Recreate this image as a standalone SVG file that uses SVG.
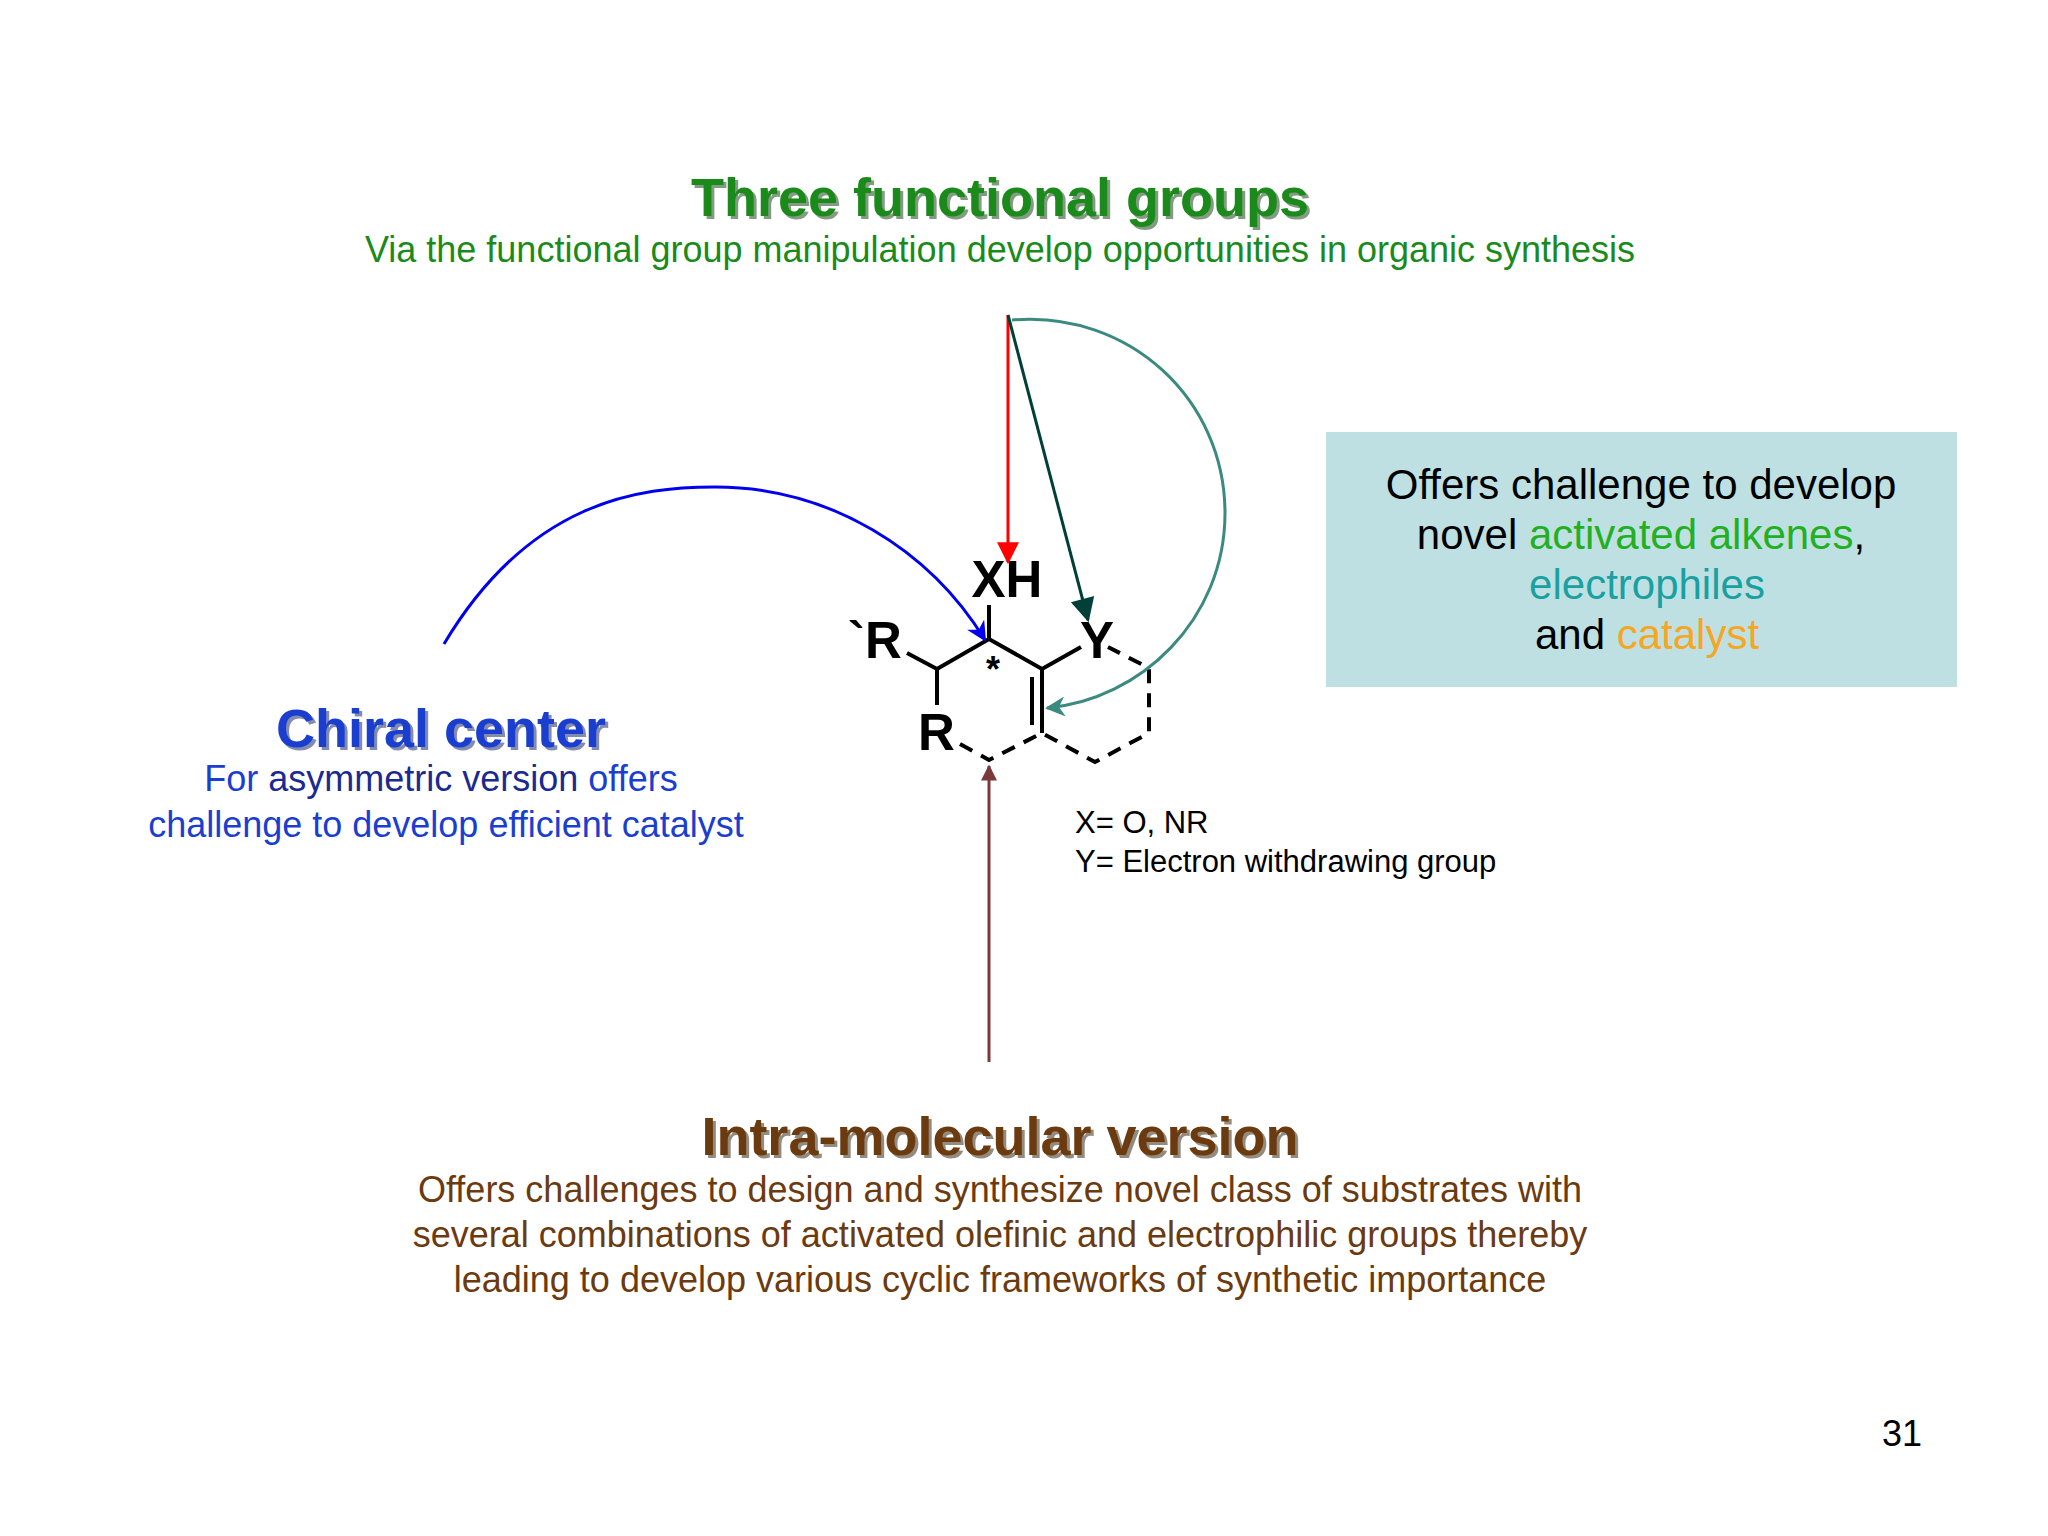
<svg xmlns="http://www.w3.org/2000/svg" width="2048" height="1536" viewBox="0 0 2048 1536">
<defs>
<marker id="mr" markerWidth="10" markerHeight="10" refX="9" refY="5" orient="auto" markerUnits="userSpaceOnUse" viewBox="0 0 10 10"><path d="M0,0 L10,5 L0,10 z" fill="#ff0000"/></marker>
<marker id="mg" viewBox="0 0 10 10" refX="9" refY="5" markerWidth="28" markerHeight="24" orient="auto" markerUnits="userSpaceOnUse"><path d="M0,0 L10,5 L0,10 z" fill="#004038"/></marker>
<marker id="mt" viewBox="0 0 10 10" refX="9" refY="5" markerWidth="28" markerHeight="20" orient="auto" markerUnits="userSpaceOnUse"><path d="M0,0 L10,5 L0,10 L3,5 z" fill="#3a8a80"/></marker>
<marker id="mb" viewBox="0 0 10 10" refX="9" refY="5" markerWidth="26" markerHeight="20" orient="auto" markerUnits="userSpaceOnUse"><path d="M0,0 L10,5 L0,10 L3,5 z" fill="#0000ee"/></marker>
<marker id="mbr" viewBox="0 0 10 10" refX="9" refY="5" markerWidth="22" markerHeight="16" orient="auto" markerUnits="userSpaceOnUse"><path d="M0,0 L10,5 L0,10 z" fill="#7a3a3a"/></marker>
<marker id="mr2" viewBox="0 0 10 10" refX="9" refY="5" markerWidth="30" markerHeight="22" orient="auto" markerUnits="userSpaceOnUse"><path d="M0,0 L10,5 L0,10 z" fill="#ff0000"/></marker>
</defs>
<style>
text{font-family:"Liberation Sans",Arial,sans-serif}
.h{font-weight:bold;font-size:54px;text-anchor:middle}
.s{font-size:36px;text-anchor:middle}
.b{stroke:#000;stroke-width:4;fill:none}
.d{stroke:#000;stroke-width:4;fill:none;stroke-dasharray:14,10}
.at{font-weight:bold;font-size:51px;fill:#000}
</style>
<rect width="2048" height="1536" fill="#fff"/>
<g id="title">
<text class="h" x="1003" y="219" fill="#0a3a0a" opacity="0.5">Three functional groups</text>
<text class="h" x="1000" y="216" fill="#1a8a1a">Three functional groups</text>
<text class="s" x="1000" y="262" fill="#1a8a1a">Via the functional group manipulation develop opportunities in organic synthesis</text>
</g>
<g id="chiral">
<text class="h" x="444" y="750" fill="#0a1a60" opacity="0.5">Chiral center</text>
<text class="h" x="441" y="747" fill="#1a3fd0">Chiral center</text>
<text class="s" x="441" y="791" fill="#1a3fd0">For <tspan fill="#1a2a90">asymmetric version</tspan> offers</text>
<text class="s" x="446" y="837" fill="#1a3fd0">challenge to develop efficient catalyst</text>
</g>
<g id="box">
<rect x="1326" y="432" width="631" height="255" fill="#bfe0e3"/>
<text x="1641" y="499" font-size="42" text-anchor="middle" fill="#000">Offers challenge to develop</text>
<text x="1641" y="549" font-size="42" text-anchor="middle" fill="#000">novel <tspan fill="#22b022">activated alkenes</tspan>,</text>
<text x="1647" y="599" font-size="42" text-anchor="middle" fill="#1aa0a0">electrophiles</text>
<text x="1647" y="649" font-size="42" text-anchor="middle" fill="#000">and <tspan fill="#f5a623">catalyst</tspan></text>
</g>
<g id="legend">
<text x="1075" y="833" font-size="31" fill="#000">X= O, NR</text>
<text x="1075" y="872" font-size="31" fill="#000">Y= Electron withdrawing group</text>
</g>
<g id="intra">
<text class="h" x="1003" y="1158" fill="#2a1a00" opacity="0.5">Intra-molecular version</text>
<text class="h" x="1000" y="1155" fill="#6b3a0e">Intra-molecular version</text>
<text class="s" x="1000" y="1202" fill="#6b3a0e">Offers challenges to design and synthesize novel class of substrates with</text>
<text class="s" x="1000" y="1247" fill="#6b3a0e">several combinations of activated olefinic and electrophilic groups thereby</text>
<text class="s" x="1000" y="1292" fill="#6b3a0e">leading to develop various cyclic frameworks of synthetic importance</text>
</g>
<g id="molecule">
<text class="at" x="1007" y="597" text-anchor="middle">XH</text>
<text class="at" x="848" y="658">`R</text>
<text class="at" x="918" y="750">R</text>
<text class="at" x="1080" y="658">Y</text>
<text x="993" y="682" font-size="36" font-weight="bold" text-anchor="middle">*</text>
<polyline class="b" points="907,653 937,669 989,639 1042,669 1081,647"/>
<line class="b" x1="989" y1="639" x2="989" y2="605"/>
<line class="b" x1="937" y1="669" x2="937" y2="705"/>
<line class="b" x1="1042" y1="669" x2="1042" y2="733"/>
<line class="b" x1="1032" y1="677" x2="1032" y2="725"/>
<polyline class="d" points="960,744 989,760 1042,733 1095,762 1149,733 1149,668 1108,647"/>
</g>
<g id="connectors" fill="none">
<line x1="1008" y1="315" x2="1008" y2="562" stroke="#ff0000" stroke-width="3" marker-end="url(#mr2)"/>
<line x1="1008" y1="315" x2="1088" y2="620" stroke="#004038" stroke-width="3" marker-end="url(#mg)"/>
<path d="M1012,320 C1130,310 1225,400 1225,513 C1225,620 1140,700 1047,708" stroke="#3a8a80" stroke-width="3" marker-end="url(#mt)"/>
<path d="M444,644 C530,500 640,487 715,487 C830,487 930,550 985,640" stroke="#0000ee" stroke-width="3" marker-end="url(#mb)"/>
<line x1="989" y1="1062" x2="989" y2="766" stroke="#7a3a3a" stroke-width="3" marker-end="url(#mbr)"/>
</g>
<text x="1902" y="1446" font-size="36" text-anchor="middle" fill="#000">31</text>
</svg>
